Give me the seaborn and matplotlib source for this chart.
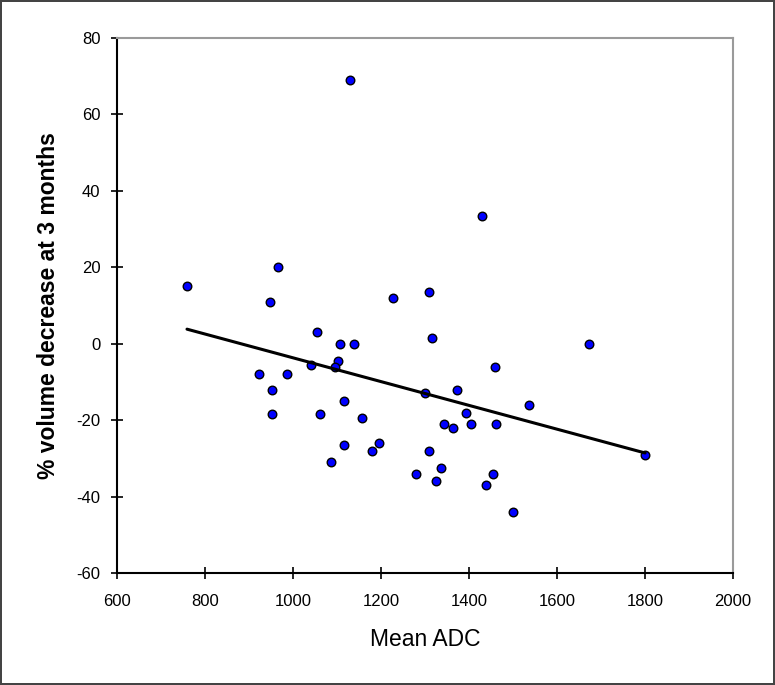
import numpy as np
import pandas as pd
import matplotlib
matplotlib.use("Agg")
import matplotlib.pyplot as plt
import seaborn as sns

# values
mean_adc = [759, 948, 965, 1130, 1227, 1310, 1316, 1054, 1107, 1139,
            1101, 1096, 1040, 923, 987, 952, 952, 1062, 1116, 1156,
            1116, 1196, 1180, 1086, 1280, 1310, 1300, 1429, 1673, 1458,
            1373, 1537, 1392, 1344, 1364, 1404, 1462, 1336, 1324, 1454,
            1439, 1500, 1800]
vol_decrease = [15, 11, 20, 69, 12, 13.5, 1.5, 3, 0, 0,
                -4.5, -6, -5.5, -8, -8, -12, -18.5, -18.5, -15, -19.5,
                -26.5, -26, -28, -31, -34, -28, -13, 33.5, 0, -6,
                -12, -16, -18, -21, -22, -21, -21, -32.5, -36, -34,
                -37, -44, -29]
x_ticks = [600, 800, 1000, 1200, 1400, 1600, 1800, 2000]
y_ticks = [-60, -40, -20, 0, 20, 40, 60, 80]

df = pd.DataFrame({"adc": mean_adc, "vol": vol_decrease})

sns.set_style("ticks")
plt.rcParams['font.family'] = ['Liberation Sans', 'DejaVu Sans']
plt.rcParams['axes.unicode_minus'] = False

fig = plt.figure(figsize=(7.75, 6.85), dpi=100, linewidth=1.5, edgecolor='#444444')
ax = fig.add_axes([0.151, 0.1635, 0.795, 0.781])

# scatter + least squares trend line (like the excel trendline)
sns.regplot(x='adc', y='vol', data=df, ax=ax, ci=None,
            scatter_kws=dict(s=38, color='#0000ff', edgecolor='black', linewidths=1, alpha=1),
            line_kws=dict(color='black', lw=2.2, zorder=5))

ax.set_xlim(600, 2000)
ax.set_ylim(-60, 80)
ax.set_xticks(x_ticks)
ax.set_yticks(y_ticks)
ax.tick_params(direction='inout', length=8, width=1.2, color='black',
               labelsize=12, labelcolor='black')
ax.tick_params(axis='x', pad=11)
ax.tick_params(axis='y', pad=8)
for s in ['left', 'bottom']:
    ax.spines[s].set_color('black')
    ax.spines[s].set_linewidth(1.5)
for s in ['top', 'right']:
    ax.spines[s].set_visible(True)
    ax.spines[s].set_color('#9a9a9a')
    ax.spines[s].set_linewidth(1.5)

ax.set_xlabel('Mean ADC', fontsize=16.5, color='black', labelpad=14)
ax.set_ylabel('% volume decrease at 3 months', fontsize=16.5, fontweight='bold',
              color='black', labelpad=12)

fig.savefig('out.png', dpi=100, edgecolor=fig.get_edgecolor())
